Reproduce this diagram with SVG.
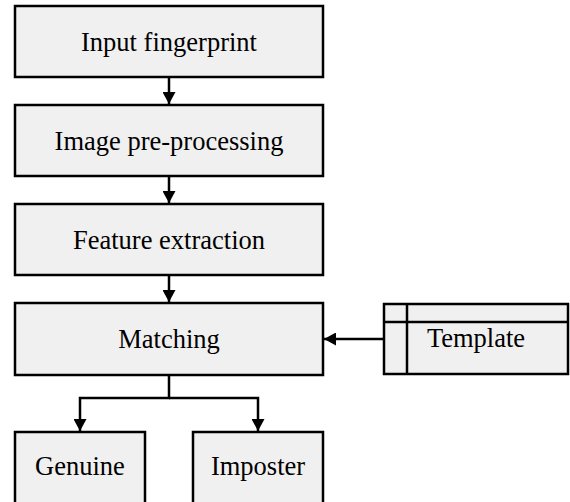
<svg xmlns="http://www.w3.org/2000/svg" width="570" height="502" viewBox="0 0 570 502">
  <style>
    .box { fill: #f0f0f0; stroke: #000; stroke-width: 2.5; }
    .lbl { font-family: "Liberation Serif", "Times New Roman", serif; font-size: 26.5px; fill: #000; text-anchor: middle; }
    .edge { fill: none; stroke: #000; stroke-width: 2.5; }
  </style>
  <defs>
    <marker id="arrow" viewBox="0 0 12 13" refX="12" refY="6.5" markerWidth="12" markerHeight="13" markerUnits="userSpaceOnUse" orient="auto">
      <path d="M0,0 L12,6.5 L0,13 Z" fill="#000"/>
    </marker>
  </defs>

  <rect width="570" height="502" fill="#fff"/>

  <g id="connectors">
    <path class="edge" d="M169,77 V104" marker-end="url(#arrow)"/>
    <path class="edge" d="M169,176 V203" marker-end="url(#arrow)"/>
    <path class="edge" d="M169,275 V302" marker-end="url(#arrow)"/>
    <path class="edge" d="M384,339 H324" marker-end="url(#arrow)"/>
    <path class="edge" d="M169,375 V398 H80 V431" marker-end="url(#arrow)"/>
    <path class="edge" d="M169,398 H258 V431" marker-end="url(#arrow)"/>
  </g>

  <g id="input">
    <rect class="box" x="15" y="6" width="308" height="71"/>
    <text class="lbl" x="169" y="51">Input fingerprint</text>
  </g>
  <g id="preprocessing">
    <rect class="box" x="15" y="105" width="308" height="71"/>
    <text class="lbl" x="169" y="150">Image pre-processing</text>
  </g>
  <g id="extraction">
    <rect class="box" x="15" y="204" width="308" height="71"/>
    <text class="lbl" x="169" y="249">Feature extraction</text>
  </g>
  <g id="matching">
    <rect class="box" x="15" y="303" width="308" height="72"/>
    <text class="lbl" x="169" y="348">Matching</text>
  </g>
  <g id="template">
    <rect class="box" x="384" y="304" width="184" height="70"/>
    <path class="edge" d="M384,322 H568 M407,304 V374"/>
    <text class="lbl" x="476" y="347">Template</text>
  </g>
  <g id="genuine">
    <rect class="box" x="15" y="432" width="130" height="80"/>
    <text class="lbl" x="80" y="475">Genuine</text>
  </g>
  <g id="imposter">
    <rect class="box" x="193" y="432" width="130" height="80"/>
    <text class="lbl" x="258" y="475">Imposter</text>
  </g>
</svg>
